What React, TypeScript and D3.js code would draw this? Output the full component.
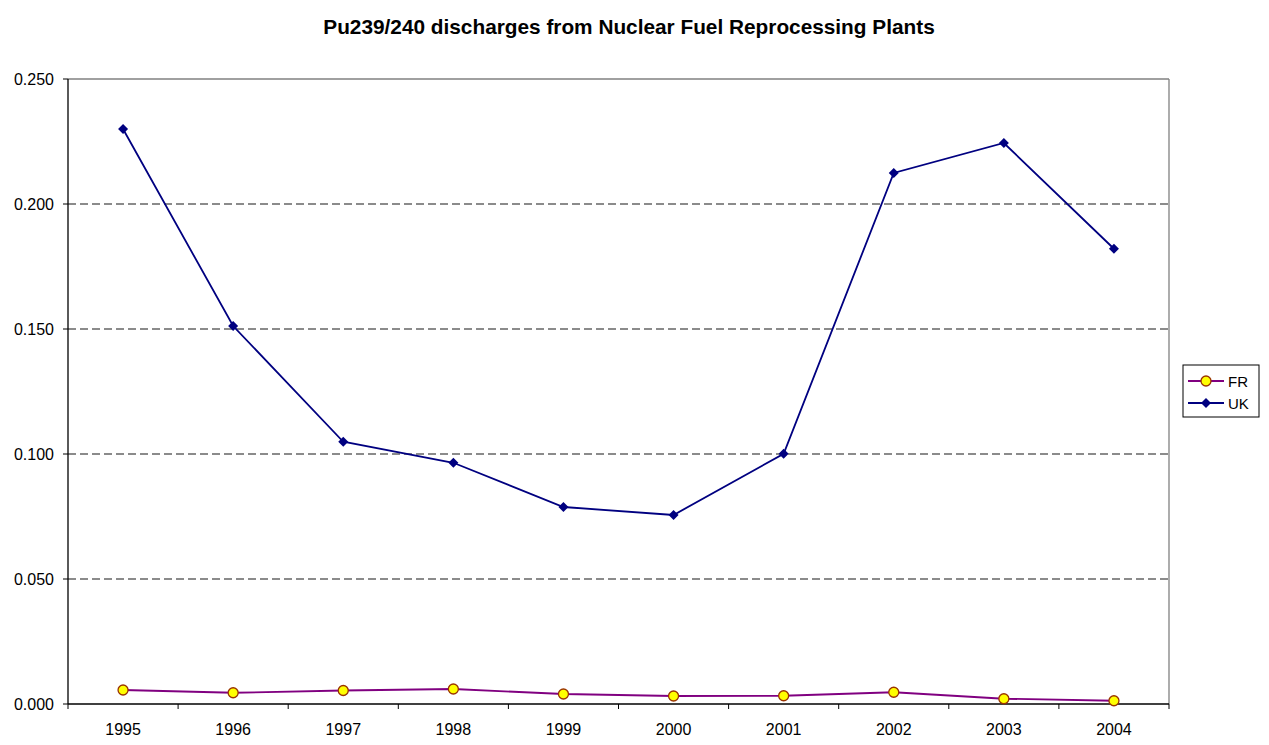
import React from "react";
import * as d3 from "d3";

const years = ["1995", "1996", "1997", "1998", "1999", "2000", "2001", "2002", "2003", "2004"];
const frValues = [0.0056, 0.0045, 0.0054, 0.006, 0.004, 0.0032, 0.0033, 0.0047, 0.0021, 0.0013];
const ukValues = [0.230, 0.1512, 0.1049, 0.0965, 0.0788, 0.0756, 0.1001, 0.2124, 0.2244, 0.1821];
const yTicks = [0, 0.05, 0.1, 0.15, 0.2, 0.25];
const title = "Pu239/240 discharges from Nuclear Fuel Reprocessing Plants";

const W = 1269, H = 745;
const L = 68, R = 1169, T = 79, B = 704;

export default function App() {
  const x = d3.scaleBand<string>().domain(years).range([L, R]);
  const y = d3.scaleLinear().domain([0, 0.25]).range([B, T]);
  const cx = (yr: string) => (x(yr) as number) + x.bandwidth() / 2;
  const line = d3.line<number>().x((_, i) => cx(years[i])).y((v) => y(v));
  const font = "Arial, 'Liberation Sans', sans-serif";
  const diamond = (px: number, py: number, s: number) =>
    `M${px},${py - s}L${px + s},${py}L${px},${py + s}L${px - s},${py}Z`;
  const tickXs = years.map((yr) => x(yr) as number).concat([R]);

  return (
    <svg width={W} height={H} style={{ position: "absolute", left: 0, top: 0, background: "#fff" }} fontFamily={font}>
      <rect x={0} y={0} width={W} height={H} fill="#fff" />
      <text x={629} y={34} textAnchor="middle" fontSize={20.8} fontWeight="bold" fill="#000">{title}</text>
      {/* gridlines */}
      {yTicks.filter((t) => t > 0 && t < 0.25).map((t) => (
        <line key={t} x1={L} x2={R} y1={y(t)} y2={y(t)} stroke="#666" strokeWidth={1.3} strokeDasharray="8,4" />
      ))}
      {/* plot border top/right */}
      <line x1={L} x2={R} y1={T} y2={T} stroke="#808080" strokeWidth={1.3} />
      <line x1={R} x2={R} y1={T} y2={B} stroke="#808080" strokeWidth={1.3} />
      {/* axes */}
      <line x1={L} x2={L} y1={T} y2={B} stroke="#000" strokeWidth={1.3} />
      <line x1={L} x2={R} y1={B} y2={B} stroke="#000" strokeWidth={1.3} />
      {yTicks.map((t) => (
        <g key={t}>
          <line x1={L - 5} x2={L} y1={y(t)} y2={y(t)} stroke="#000" />
          <text x={L - 14} y={y(t) + 5.5} textAnchor="end" fontSize={16} fill="#000">{t.toFixed(3)}</text>
        </g>
      ))}
      {tickXs.map((tx, i) => (
        <line key={i} x1={tx} x2={tx} y1={B} y2={B + 5} stroke="#000" />
      ))}
      {years.map((yr) => (
        <text key={yr} x={cx(yr)} y={735} textAnchor="middle" fontSize={16} fill="#000">{yr}</text>
      ))}
      {/* FR */}
      <path d={line(frValues) || ""} fill="none" stroke="#800080" strokeWidth={1.8} />
      {frValues.map((v, i) => (
        <circle key={i} cx={cx(years[i])} cy={y(v)} r={5} fill="#ffff00" stroke="#993300" strokeWidth={1.3} />
      ))}
      {/* UK */}
      <path d={line(ukValues) || ""} fill="none" stroke="#000080" strokeWidth={1.8} />
      {ukValues.map((v, i) => (
        <path key={i} d={diamond(cx(years[i]), y(v), 5)} fill="#000080" />
      ))}
      {/* legend */}
      <rect x={1183} y={365} width={76} height={52} fill="#fff" stroke="#000" strokeWidth={1} />
      <line x1={1188} x2={1224} y1={381} y2={381} stroke="#800080" strokeWidth={1.8} />
      <circle cx={1206} cy={381} r={5} fill="#ffff00" stroke="#993300" strokeWidth={1.3} />
      <text x={1228} y={386.5} fontSize={15} fill="#000">FR</text>
      <line x1={1188} x2={1224} y1={403} y2={403} stroke="#000080" strokeWidth={1.8} />
      <path d={diamond(1206, 403, 5)} fill="#000080" />
      <text x={1228} y={408.5} fontSize={15} fill="#000">UK</text>
    </svg>
  );
}
